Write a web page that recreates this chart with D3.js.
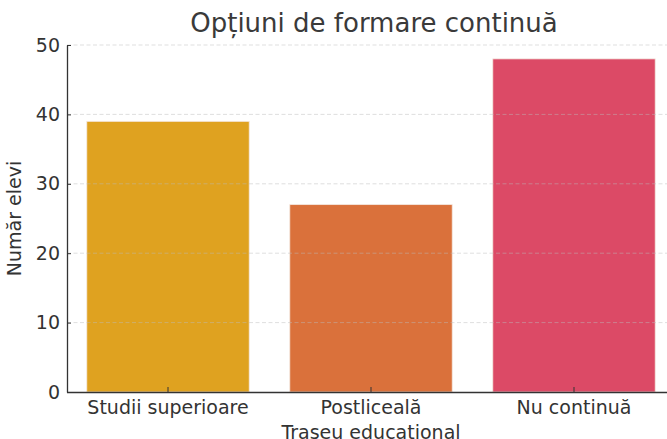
<!DOCTYPE html>
<html><head><meta charset="utf-8">
<script src="https://cdn.jsdelivr.net/npm/d3@7"></script>
<style>body{margin:0;background:#fff}svg{display:block}text{font-family:"DejaVu Sans",sans-serif;fill:#333}</style>
</head><body>
<script>
const categories = ["Studii superioare", "Postliceală", "Nu continuă"];
const values = [39, 27, 48];
const colors = ["#DFA220", "#DA713B", "#DC4A66"];
const yTicks = [0, 10, 20, 30, 40, 50];
const title = "Opțiuni de formare continuă";
const xLabel = "Traseu educațional";
const yLabel = "Număr elevi";

const W = 667, H = 439;
const svg = d3.select("body").append("svg").attr("width", W).attr("height", H);
const x = d3.scaleBand().domain(categories).range([66.5, 675.5]).paddingInner(0.2).paddingOuter(0.1);
const y = d3.scaleLinear().domain([0, 50]).range([392, 45]);

svg.selectAll("rect.bar").data(values).enter().append("rect")
  .attr("x", (d, i) => x(categories[i]))
  .attr("width", x.bandwidth())
  .attr("y", d => y(d))
  .attr("height", d => y(0) - y(d))
  .attr("fill", (d, i) => colors[i])
  .attr("stroke", "#f4e8e0").attr("stroke-width", 0.8);

svg.append("g").selectAll("line").data(yTicks.slice(1)).enter().append("line")
  .attr("x1", 67).attr("x2", W).attr("y1", d => y(d)).attr("y2", d => y(d))
  .attr("stroke", "#bbb").attr("stroke-opacity", 0.6).attr("stroke-dasharray", "4,2.5").attr("stroke-width", 0.8);

const ya = svg.append("g").attr("transform", "translate(67,0)")
  .call(d3.axisLeft(y).tickValues(yTicks).tickSizeInner(-4).tickSizeOuter(0).tickPadding(7));
ya.selectAll("text").style("font-size", "19px");
const xa = svg.append("g").attr("transform", "translate(0,392)")
  .call(d3.axisBottom(x).tickSizeInner(-5).tickSizeOuter(0).tickPadding(9));
xa.selectAll("text").style("font-size", "19px");
svg.selectAll(".domain").attr("stroke", "#333").attr("stroke-width", 1.3);
svg.selectAll(".tick line").attr("stroke", "#333");

svg.append("text").attr("x", 374).attr("y", 32).attr("text-anchor", "middle").style("font-size", "26px").style("fill", "#3a3a3a").text(title);
svg.append("text").attr("x", 371).attr("y", 439).attr("text-anchor", "middle").style("font-size", "19px").text(xLabel);
svg.append("text").attr("transform", "translate(21,218.5) rotate(-90)").attr("text-anchor", "middle").style("font-size", "19px").text(yLabel);
</script>
</body></html>
